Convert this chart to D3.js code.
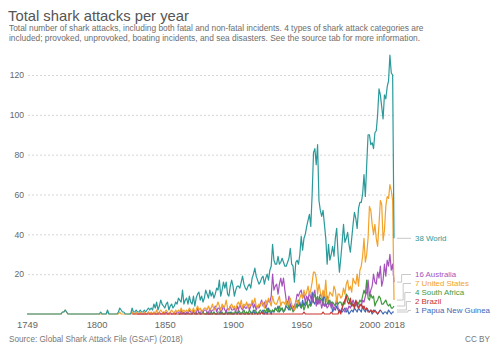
<!DOCTYPE html>
<meta charset="utf-8">
<script src="https://d3js.org/d3.v7.min.js"></script>
<style>
  body { margin: 0; background: #fff; }
  text { font-family: "Liberation Sans", Arial, sans-serif; }
</style>
<body>
<div id="chart"></div>
<script>
// shark attacks per year, each series runs from its start year to 2018
var worldStart = 1749;
var world = [
  0,0,0,0,0,0,0,0,0,0,0,0,0,0,0,0,0,0,0,0,0,   // 1749-1769
  0,0,0,0,0,1,1,2,1,0,  0,0,0,0,0,0,0,0,0,0,  0,0,0,0,0,0,0,0,0,0,
  0,0,0,1,0,0,0,0,2,0,  0,0,0,0,0,0,1,3,2,1,  1,0,0,0,0,0,3,1,1,2,
  1,1,2,1,1,2,1,2,3,2,  3,2,5,3,6,2,4,7,5,4,  3,5,6,2,4,5,3,4,6,5,
  8,7,6,12,5,7,8,5,9,6,  5,9,4,8,10,11,7,9,6,8,  12,10,8,12,9,11,8,10,13,12,
  17,9,12,16,13,16,10,9,14,17,  14,9,12,14,14,13,16,19,15,13,  12,14,15,13,18,20,23,19,17,15,
  16,18,19,15,18,20,17,22,24,35,  27,25,25,29,25,26,28,26,24,24,  26,28,33,25,24,16,26,27,25,30,
  39,32,38,40,44,47,50,44,60,81,  83,75,85,57,52,49,52,45,38,25,  35,27,30,34,29,38,43,30,21,28,
  36,45,36,38,41,35,31,38,45,51,  48,43,53,56,56,60,70,59,75,90,  90,85,86,83,91,92,100,113,110,104,
  98,110,108,114,117,130,121,120,38
];
var usStart = 1749;
var unitedStates = [
  0,0,0,0,0,0,0,0,0,0,0,0,0,0,0,0,0,0,0,0,0,
  0,0,0,0,0,1,1,2,1,0,  0,0,0,0,0,0,0,0,0,0,  0,0,0,0,0,0,0,0,0,0,
  0,0,0,0,0,0,0,0,1,0,  0,0,0,0,0,0,0,1,0,0,  0,0,0,0,0,0,1,0,0,1,
  0,0,1,0,0,1,0,0,1,0,  1,0,1,0,2,0,1,2,1,0,  1,2,1,0,1,2,1,0,2,1,
  2,1,3,1,2,1,2,1,3,2,  1,3,1,2,4,2,3,1,2,3,  3,2,4,2,3,5,2,3,4,6,
  4,2,5,3,4,7,3,2,4,5,  3,4,2,5,6,4,7,3,5,4,  6,3,5,4,7,5,8,4,3,5,
  4,6,5,3,7,5,8,6,4,9,  6,5,5,7,9,4,6,6,5,7,  4,6,8,5,3,2,6,7,5,8,
  10,8,12,9,11,14,10,12,16,21,  21,18,10,15,11,8,12,9,17,6,  8,11,10,9,14,12,6,10,10,8,
  9,13,10,15,17,12,14,11,18,16,  15,20,14,22,24,29,38,26,30,38,  54,52,45,40,45,38,34,45,57,55,
  37,42,54,59,58,65,62,57,7
];
var australiaStart = 1830;
var australia = [
  0,0,0,0,0,0,0,0,1,0,  0,0,1,0,0,0,1,0,0,1,  0,1,0,0,1,0,0,1,0,1,
  1,0,2,0,1,0,1,0,2,1,  0,2,1,0,3,1,0,2,1,2,  2,1,0,3,1,2,2,4,1,3,
  3,1,2,4,2,1,3,2,4,2,  2,3,1,4,2,5,3,2,4,3,  3,5,2,4,6,3,5,2,4,3,
  5,7,4,6,3,5,7,6,9,20,  12,14,15,10,15,18,14,18,12,7,  5,9,4,3,2,4,6,10,9,11,
  12,8,10,6,9,7,11,8,6,10,  12,4,8,5,7,3,6,4,5,3,  4,6,3,5,2,4,8,3,2,1,
  3,2,1,3,2,4,3,5,7,5,  6,4,3,5,4,7,6,9,11,17,  9,12,14,20,16,15,21,18,24,14,
  17,25,19,27,24,30,22,25,16
];
var southAfricaStart = 1860;
var southAfrica = [
  0,0,0,1,0,0,0,1,0,0,  0,1,0,0,0,1,0,0,1,0,  0,1,0,0,1,0,1,0,0,1,
  1,0,1,0,0,2,0,1,0,1,  0,1,1,0,2,1,0,1,2,0,  1,0,2,1,0,1,2,1,0,1,
  2,1,0,2,1,3,1,2,1,2,  1,3,2,1,4,2,3,1,2,5,  6,3,2,4,1,2,5,3,7,4,
  3,5,2,4,6,3,5,4,6,8,  10,7,9,6,8,7,5,4,6,9,  5,7,4,6,5,4,6,5,6,6,
  4,6,5,10,9,7,5,6,4,5,  4,6,5,7,6,9,12,10,17,8,  7,10,8,9,4,6,7,9,8,5,
  5,6,7,5,4,5,3,3,4
];
var brazilStart = 1826;
var brazil = [
  0,0,0,0,
  0,0,0,0,0,0,0,0,0,0,  0,0,0,0,0,0,0,0,0,0,  0,0,0,0,0,0,0,0,0,0,
  0,0,0,0,0,0,0,0,0,0,  0,0,0,0,0,0,0,0,0,0,  0,0,0,0,0,0,0,0,0,0,
  0,0,0,0,0,0,0,0,0,0,  0,0,0,0,0,0,0,0,0,0,  0,0,0,0,0,0,0,0,0,0,
  0,1,0,0,0,0,0,0,0,0,  0,0,0,0,0,0,0,0,0,0,  0,0,0,0,0,0,0,0,0,0,
  0,0,1,0,0,0,0,0,0,0,  0,0,0,0,0,0,1,0,0,0,  0,0,1,0,0,0,0,0,2,0,
  3,5,7,9,6,5,8,4,5,3,  7,5,3,4,5,3,4,2,3,1,  1,2,1,2,1,1,0,1,2
];
var pngStart = 1880;
var papuaNewGuinea = [
  0,0,1,0,0,0,1,0,0,0,  0,1,0,0,0,1,0,0,1,0,  0,0,1,0,1,0,0,1,0,0,
  1,0,0,1,0,2,0,1,0,1,  0,1,2,0,1,0,3,1,0,2,  1,3,2,4,1,2,3,1,2,4,
  3,2,5,3,4,2,5,5,4,6,  3,7,4,6,5,8,7,4,11,6,  5,8,5,7,10,9,6,11,4,5,
  7,5,6,1,3,2,4,2,1,2,  1,2,3,1,2,0,1,2,1,3,  2,1,3,2,1,4,2,1,3,2,
  1,2,0,1,2,1,0,1,2,1,  0,1,1,0,2,1,0,1,1
];

var seriesNames = ["Papua New Guinea", "South Africa", "Australia", "United States", "Brazil", "World"];
var seriesValues = [papuaNewGuinea, southAfrica, australia, unitedStates, brazil, world];
var seriesStarts = [pngStart, southAfricaStart, australiaStart, usStart, brazilStart, worldStart];
var seriesColors = ["#3d67b5", "#3f9a3c", "#a652bd", "#f2a22a", "#c9342e", "#2a9a9b"];

var xTicks = [1749, 1800, 1850, 1900, 1950, 2000, 2018];
var yTicks = [20, 40, 60, 80, 100, 120];

var width = 500, height = 353;
var margin = {top: 75, right: 106, bottom: 39, left: 27};

var svg = d3.select("#chart")
  .append("svg")
    .attr("width", width)
    .attr("height", height);

// title block
svg.append("text")
  .attr("x", 8).attr("y", 20.5)
  .style("font-size", "14.8px").style("fill", "#555")
  .text("Total shark attacks per year");
var subtitle = [
  "Total number of shark attacks, including both fatal and non-fatal incidents. 4 types of shark attack categories are",
  "included; provoked, unprovoked, boating incidents, and sea disasters. See the source tab for more information."
];
svg.selectAll(".sub")
  .data(subtitle)
  .enter().append("text")
    .attr("x", 9)
    .attr("y", function(d, i) { return 31 + i * 10; })
    .style("font-size", "8.4px").style("fill", "#6e6e6e")
    .text(function(d) { return d; });

var x = d3.scaleLinear()
  .domain([1749, 2018])
  .range([margin.left, width - margin.right]);
var y = d3.scaleLinear()
  .domain([0, 120])
  .range([height - margin.bottom, margin.top]);

// dotted gridlines + y labels
svg.append("g")
  .attr("transform", "translate(" + (margin.left + 1) + ",0)")
  .call(d3.axisLeft(y).tickValues(yTicks).tickSize(-(width - margin.right - margin.left)).tickPadding(4))
  .call(function(g) {
    g.select(".domain").remove();
    g.selectAll(".tick line").attr("stroke", "#d6d6d6").attr("stroke-dasharray", "2,2");
    g.selectAll(".tick text").style("fill", "#666").style("font-size", "8.6px")
      .style("font-family", "Liberation Sans, Arial, sans-serif");
  });

// x labels
svg.append("g")
  .attr("transform", "translate(0," + (height - margin.bottom + 3) + ")")
  .call(d3.axisBottom(x).tickValues(xTicks).tickFormat(d3.format("d")).tickSize(0).tickPadding(4))
  .call(function(g) {
    g.select(".domain").remove();
    g.selectAll(".tick text").style("fill", "#666").style("font-size", "9.4px")
      .style("font-family", "Liberation Sans, Arial, sans-serif");
  });

var line = d3.line()
  .x(function(d) { return x(d.year); })
  .y(function(d) { return y(d.value); });

var series = seriesNames.map(function(name, i) {
  return {
    name: name,
    color: seriesColors[i],
    points: seriesValues[i].map(function(v, j) { return {year: seriesStarts[i] + j, value: v}; })
  };
});

svg.append("g")
  .selectAll("path")
  .data(series)
  .enter().append("path")
    .attr("fill", "none")
    .attr("stroke", function(d) { return d.color; })
    .attr("stroke-width", 1.2)
    .attr("stroke-linejoin", "round")
    .attr("d", function(d) { return line(d.points); });

// end labels, pushed apart from the bottom up
var ends = series.map(function(s) {
  var last = s.points[s.points.length - 1];
  return {name: s.name, color: s.color, value: last.value, ey: y(last.value)};
}).sort(function(a, b) { return a.value - b.value; });

var prev = height - margin.bottom - 3.5;
ends.forEach(function(d, i) {
  d.ly = Math.min(d.ey, prev);
  if (i == 0) d.ly = prev;
  prev = d.ly - 9;
});

var xEnd = x(2018);
var lab = svg.append("g");
lab.selectAll("path")
  .data(ends)
  .enter().append("path")
    .attr("fill", "none")
    .attr("stroke", "#bbb")
    .attr("stroke-width", 0.8)
    .attr("d", function(d, i) {
      var xm = xEnd + 6 + (ends.length - 1 - i) * 1.6;
      return "M" + (xEnd + 3) + "," + d.ey + "H" + xm + "V" + d.ly + "H" + (xEnd + 17);
    });
lab.selectAll("text")
  .data(ends)
  .enter().append("text")
    .attr("x", xEnd + 21)
    .attr("y", function(d) { return d.ly; })
    .attr("dy", "0.35em")
    .style("font-size", "7.9px")
    .style("fill", function(d) { return d.color; })
    .text(function(d) { return d.value + " " + d.name; });

// footer
svg.append("text")
  .attr("x", 9).attr("y", 342)
  .style("font-size", "8.2px").style("fill", "#777")
  .text("Source: Global Shark Attack File (GSAF) (2018)");
svg.append("text")
  .attr("x", 490).attr("y", 342)
  .attr("text-anchor", "end")
  .style("font-size", "8.2px").style("fill", "#777")
  .text("CC BY");
</script>
</body>
